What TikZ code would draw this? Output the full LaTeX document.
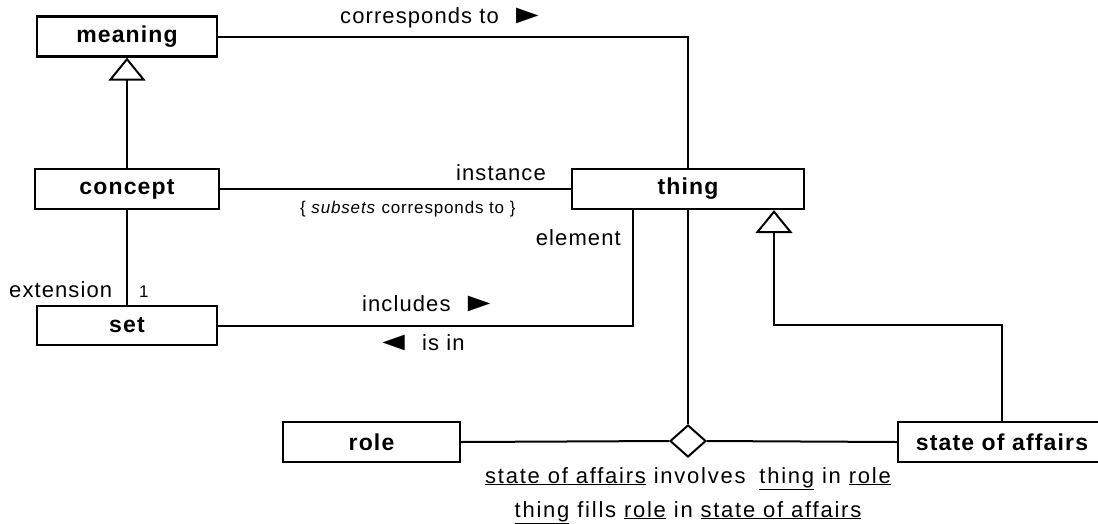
\documentclass[tikz,border=0pt]{standalone}
\usepackage{fontspec}
\usepackage{graphicx}
\setmainfont{Liberation Sans}[LetterSpace=5]
\usetikzlibrary{arrows.meta,shapes.geometric}
\newcommand{\rtri}{\scalebox{1.7}[1.2]{►}}
\newcommand{\ltri}{\scalebox{1.7}[1.2]{◄}}
\tikzset{
  box/.style={draw, line width=2.2pt, inner sep=0pt, minimum height=40pt,
    font=\fontsize{23pt}{27pt}\selectfont\bfseries},
  conn/.style={line width=2pt},
  gen/.style={conn, -{Triangle[open, length=23pt, width=37pt]}},
  lbl/.style={inner sep=0pt, font=\fontsize{22pt}{26pt}\selectfont},
  wide/.style={inner sep=0pt, font=\fontsize{22pt}{26pt}\selectfont\addfontfeature{LetterSpace=8}},
  small/.style={inner sep=0pt, font=\fontsize{17pt}{20pt}\selectfont},
}
\begin{document}
\begin{tikzpicture}[x=1pt, y=-1pt]
\useasboundingbox (0,0) rectangle (1098,523);
% boxes
\node[box, minimum width=180pt] (meaning) at (127,36.5) {meaning};
\node[box, minimum width=184pt] (concept) at (127,189) {concept};
\node[box, minimum width=180pt, minimum height=39pt] (set) at (127,325.5) {set};
\node[box, minimum width=232pt] (thing) at (688,189) {thing};
\node[box, minimum width=177pt] (role) at (371.5,442) {role};
\node[box, minimum width=208pt] (soa) at (1002,442) {state of affairs};
\node[draw, diamond, line width=2pt, minimum width=36pt, minimum height=32pt, inner sep=0pt] (dia) at (688,441) {};
% connectors
\draw[gen] (concept.north) -- (meaning.south);
\draw[conn] (meaning.east) -| (thing.north);
\draw[conn] (concept.east) -- (thing.west);
\draw[conn] (concept.south) -- (set.north);
\draw[conn] (set.east) -| ([xshift=-55pt]thing.south);
\draw[conn] (thing.south) -- (dia.north);
\draw[conn] (role.east) -- (dia.west);
\draw[conn] (dia.east) -- (soa.west);
\coordinate (gk) at (774,325);
\draw[gen] (soa.north) |- (gk) -- ([xshift=86pt]thing.south);
% labels
\node[lbl, anchor=base west] (lcorr) at (340,23) {corresponds to\hspace{10pt}\rtri};
\node[lbl, anchor=base east] (linst) at (546,180) {instance};
\node[small, anchor=base west] (lsub) at (300,213) {\{ \textit{subsets} corresponds to \}};
\node[lbl, anchor=base east] (lelem) at (621,245) {element};
\node[lbl, anchor=base west] (lext) at (9,297) {extension};
\node[small, anchor=base west] (lone) at (139,297) {1};
\node[lbl, anchor=base west] (lincl) at (362,311) {includes\hspace{10pt}\rtri};
\node[lbl, anchor=base west] (lisin) at (375,350) {\ltri\hspace{10pt}is in};
\node[wide, anchor=base] (lfirst) at (688,483) {\underline{state of affairs} involves\hspace{6pt} \underline{thing} in \underline{role}};
\node[wide, anchor=base] (lsecond) at (688,517) {\underline{thing} fills \underline{role} in \underline{state of affairs}};
\end{tikzpicture}
\end{document}
